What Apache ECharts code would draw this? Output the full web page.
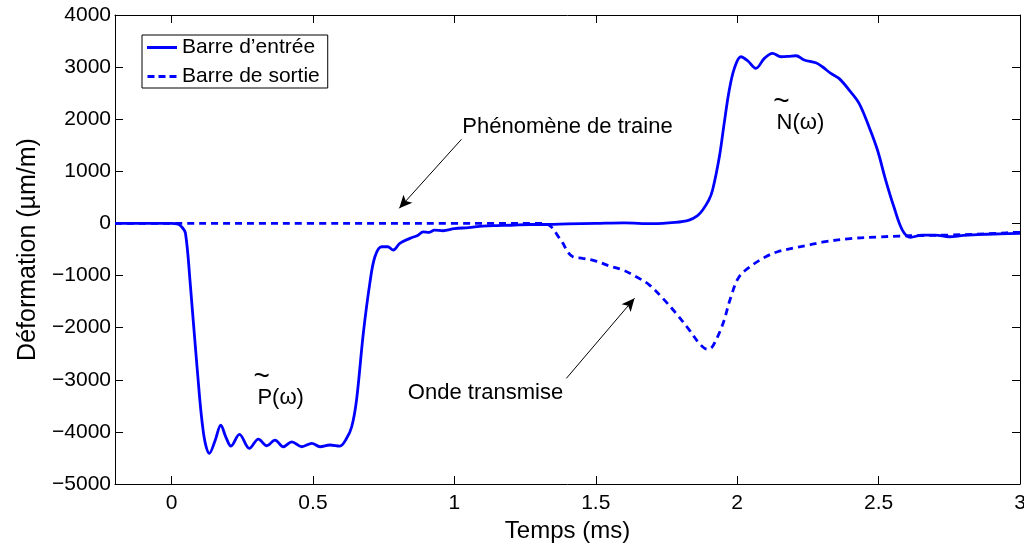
<!DOCTYPE html>
<html>
<head>
<meta charset="utf-8">
<title>Déformation</title>
<script src="https://cdn.jsdelivr.net/npm/echarts@6/dist/echarts.min.js"></script>
<style>
  html, body { margin: 0; padding: 0; background: #fff; }
  #chart { width: 1024px; height: 548px; }
</style>
</head>
<body>
<div id="chart"></div>
<script>
// barre d'entree (trait plein)
var tempsEntree = [-0.2, -0.1, 0, 0.02, 0.035, 0.049, 0.066, 0.09, 0.113, 0.134, 0.155, 0.174, 0.192, 0.21, 0.24,
  0.275, 0.307, 0.337, 0.366, 0.395, 0.425, 0.46, 0.496, 0.525, 0.56, 0.595, 0.619, 0.637, 0.654, 0.678, 0.701,
  0.719, 0.743, 0.764, 0.784, 0.807, 0.843, 0.87, 0.89, 0.91, 0.93, 0.96, 1.0, 1.05, 1.1, 1.15, 1.2, 1.27, 1.33,
  1.4, 1.5, 1.6, 1.7, 1.78, 1.83, 1.86, 1.878, 1.9, 1.913, 1.937, 1.954, 1.972, 1.99, 2.013, 2.037, 2.066, 2.096,
  2.125, 2.155, 2.18, 2.208, 2.237, 2.278, 2.301, 2.331, 2.36, 2.396, 2.431, 2.466, 2.496, 2.525, 2.554, 2.584,
  2.613, 2.654, 2.7, 2.75, 2.8, 2.866, 2.93, 3.0];
var barreEntree = [0, 0, 0, -10, -60, -184, -1150, -2750, -4028, -4412, -4150, -3869, -4100, -4272, -4048,
  -4316, -4138, -4266, -4157, -4285, -4190, -4285, -4220, -4285, -4252, -4272, -4124, -3901, -3389, -2109, -1150,
  -639, -447, -447, -510, -382, -286, -230, -160, -170, -130, -140, -100, -80, -50, -40, -35, -20, -20,
  -10, 0, 10, -5, 20, 65, 150, 257, 450, 641, 1280, 1921, 2560, 2976, 3199, 3122, 2976, 3168,
  3264, 3199, 3205, 3218, 3136, 3084, 3007, 2880, 2784, 2560, 2305, 1856, 1409, 833, 320, -127,
  -267, -223, -223, -255, -230, -209, -200, -190];

// barre de sortie (pointilles)
var tempsSortie = [-0.2, 0, 0.5, 1.0, 1.3, 1.33, 1.348, 1.365, 1.384, 1.4, 1.419, 1.454, 1.501, 1.549, 1.596,
  1.643, 1.69, 1.737, 1.784, 1.831, 1.866, 1.895, 1.91, 1.925, 1.94, 1.954, 1.978, 2.007, 2.054, 2.101, 2.143,
  2.2, 2.25, 2.3, 2.4, 2.5, 2.572, 2.65, 2.749, 2.85, 2.92, 2.984, 3.0];
var barreSortie = [0, 0, 0, 0, 0, -20, -94, -230, -382, -540, -639, -670, -722, -818, -894,
  -1023, -1182, -1437, -1725, -2046, -2301, -2416, -2380, -2238, -2060, -1854, -1407, -1023, -798, -639, -543,
  -470, -420, -360, -290, -260, -242, -232, -223, -205, -190, -171, -170];

var xTicks = [0, 0.5, 1, 1.5, 2, 2.5, 3];
var nomsSeries = ['Barre d\u2019entrée', 'Barre de sortie'];

// annotations (coordonnees en donnees)
var fleches = [
  [[1.025, 1614], [0.805, 290]],
  [[1.396, -2973], [1.637, -1437]]
];
var textes = [
  { t: 'Phénomène de traine', at: [1.028, 1850], align: 'left', size: 22 },
  { t: 'Onde transmise', at: [0.8355, -3249], align: 'left', size: 22 },
  { t: 'P(\u03c9)', at: [0.3036, -3351], align: 'left', size: 22 },
  { t: '~', at: [0.319, -2950], align: 'center', size: 28 },
  { t: 'N(\u03c9)', at: [2.139, 1932], align: 'left', size: 22 },
  { t: '~', at: [2.156, 2330], align: 'center', size: 28 }
];

function paires(xs, ys) {
  var out = [];
  for (var i = 0; i < xs.length; i++) out.push([xs[i], ys[i]]);
  return out;
}

var police = "'Liberation Sans', Arial, Helvetica, sans-serif";
function moins(v) {
  return v < 0 ? '\u2212' + Math.abs(v) : String(v);
}

var chart = echarts.init(document.getElementById('chart'), null, { renderer: 'canvas' });

var axeX = {
  type: 'value', min: -0.2, max: 3,
  axisLine: { show: true, onZero: false, lineStyle: { color: '#000', width: 1 } },
  axisTick: { show: true, inside: true, length: 8, customValues: xTicks, lineStyle: { color: '#000' } },
  splitLine: { show: false }
};
var axeY = {
  type: 'value', min: -5000, max: 4000, interval: 1000,
  axisLine: { show: true, onZero: false, lineStyle: { color: '#000', width: 1 } },
  axisTick: { show: true, inside: true, length: 8, lineStyle: { color: '#000' } },
  splitLine: { show: false }
};

var option = {
  animation: false,
  backgroundColor: '#fff',
  textStyle: { fontFamily: police },
  grid: { left: 115, right: 4, top: 15, bottom: 64, outerBoundsMode: 'none', containLabel: false },
  legend: {
    data: [
      { name: nomsSeries[0], icon: 'path://M0,0h30v3h-30z' },
      { name: nomsSeries[1], icon: 'path://M0,0h7v3h-7zM11,0h7v3h-7zM22,0h7v3h-7z' }
    ],
    orient: 'vertical',
    left: 142, top: 35,
    padding: [2, 8, 1, 5],
    itemGap: 8,
    itemWidth: 30, itemHeight: 3,
    backgroundColor: '#fff',
    borderColor: '#000', borderWidth: 1, borderRadius: 0,
    textStyle: { fontSize: 21, color: '#000', fontFamily: police }
  },
  xAxis: [
    Object.assign({}, axeX, {
      position: 'bottom',
      name: 'Temps (ms)', nameLocation: 'middle', nameGap: 31,
      nameTextStyle: { fontSize: 24, color: '#000', fontFamily: police },
      axisLabel: { show: true, customValues: xTicks, fontSize: 21, color: '#000', margin: 9, fontFamily: police }
    }),
    Object.assign({}, axeX, { position: 'top', axisLabel: { show: false } })
  ],
  yAxis: [
    Object.assign({}, axeY, {
      position: 'left',
      name: 'Déformation (\u00b5m/m)', nameLocation: 'middle', nameGap: 74,
      nameTextStyle: { fontSize: 25, color: '#000', fontFamily: police },
      axisLabel: { show: true, fontSize: 21, color: '#000', margin: 4, fontFamily: police, formatter: moins }
    }),
    Object.assign({}, axeY, { position: 'right', axisLabel: { show: false } })
  ],
  series: [
    {
      name: nomsSeries[0], type: 'line', xAxisIndex: 0, yAxisIndex: 0,
      data: paires(tempsEntree, barreEntree),
      symbol: 'none', smooth: 0.35,
      lineStyle: { color: '#0000ff', width: 2.8, type: 'solid' },
      itemStyle: { color: '#0000ff' },
      z: 3,
      markLine: {
        silent: true, animation: false,
        symbol: ['none', 'arrow'], symbolSize: [9, 13],
        label: { show: false },
        lineStyle: { color: '#000', width: 1, type: 'solid' },
        data: fleches.map(function (f) {
          return [{ coord: f[0] }, { coord: f[1] }];
        })
      }
    },
    {
      name: nomsSeries[1], type: 'line', xAxisIndex: 0, yAxisIndex: 0,
      data: paires(tempsSortie, barreSortie),
      symbol: 'none', smooth: 0.35,
      lineStyle: { color: '#0000ff', width: 2.8, type: [7, 5] },
      itemStyle: { color: '#0000ff' },
      z: 2
    }
  ]
};

chart.setOption(option);

// textes d'annotation places a partir des coordonnees de donnees
var graphiques = textes.map(function (a) {
  var p = chart.convertToPixel({ gridIndex: 0 }, a.at);
  return {
    type: 'text', x: p[0], y: p[1], z: 50, silent: true,
    style: {
      text: a.t, fill: '#000', fontSize: a.size, fontFamily: police,
      align: a.align, verticalAlign: 'middle'
    }
  };
});
chart.setOption({ graphic: graphiques });
</script>
</body>
</html>
